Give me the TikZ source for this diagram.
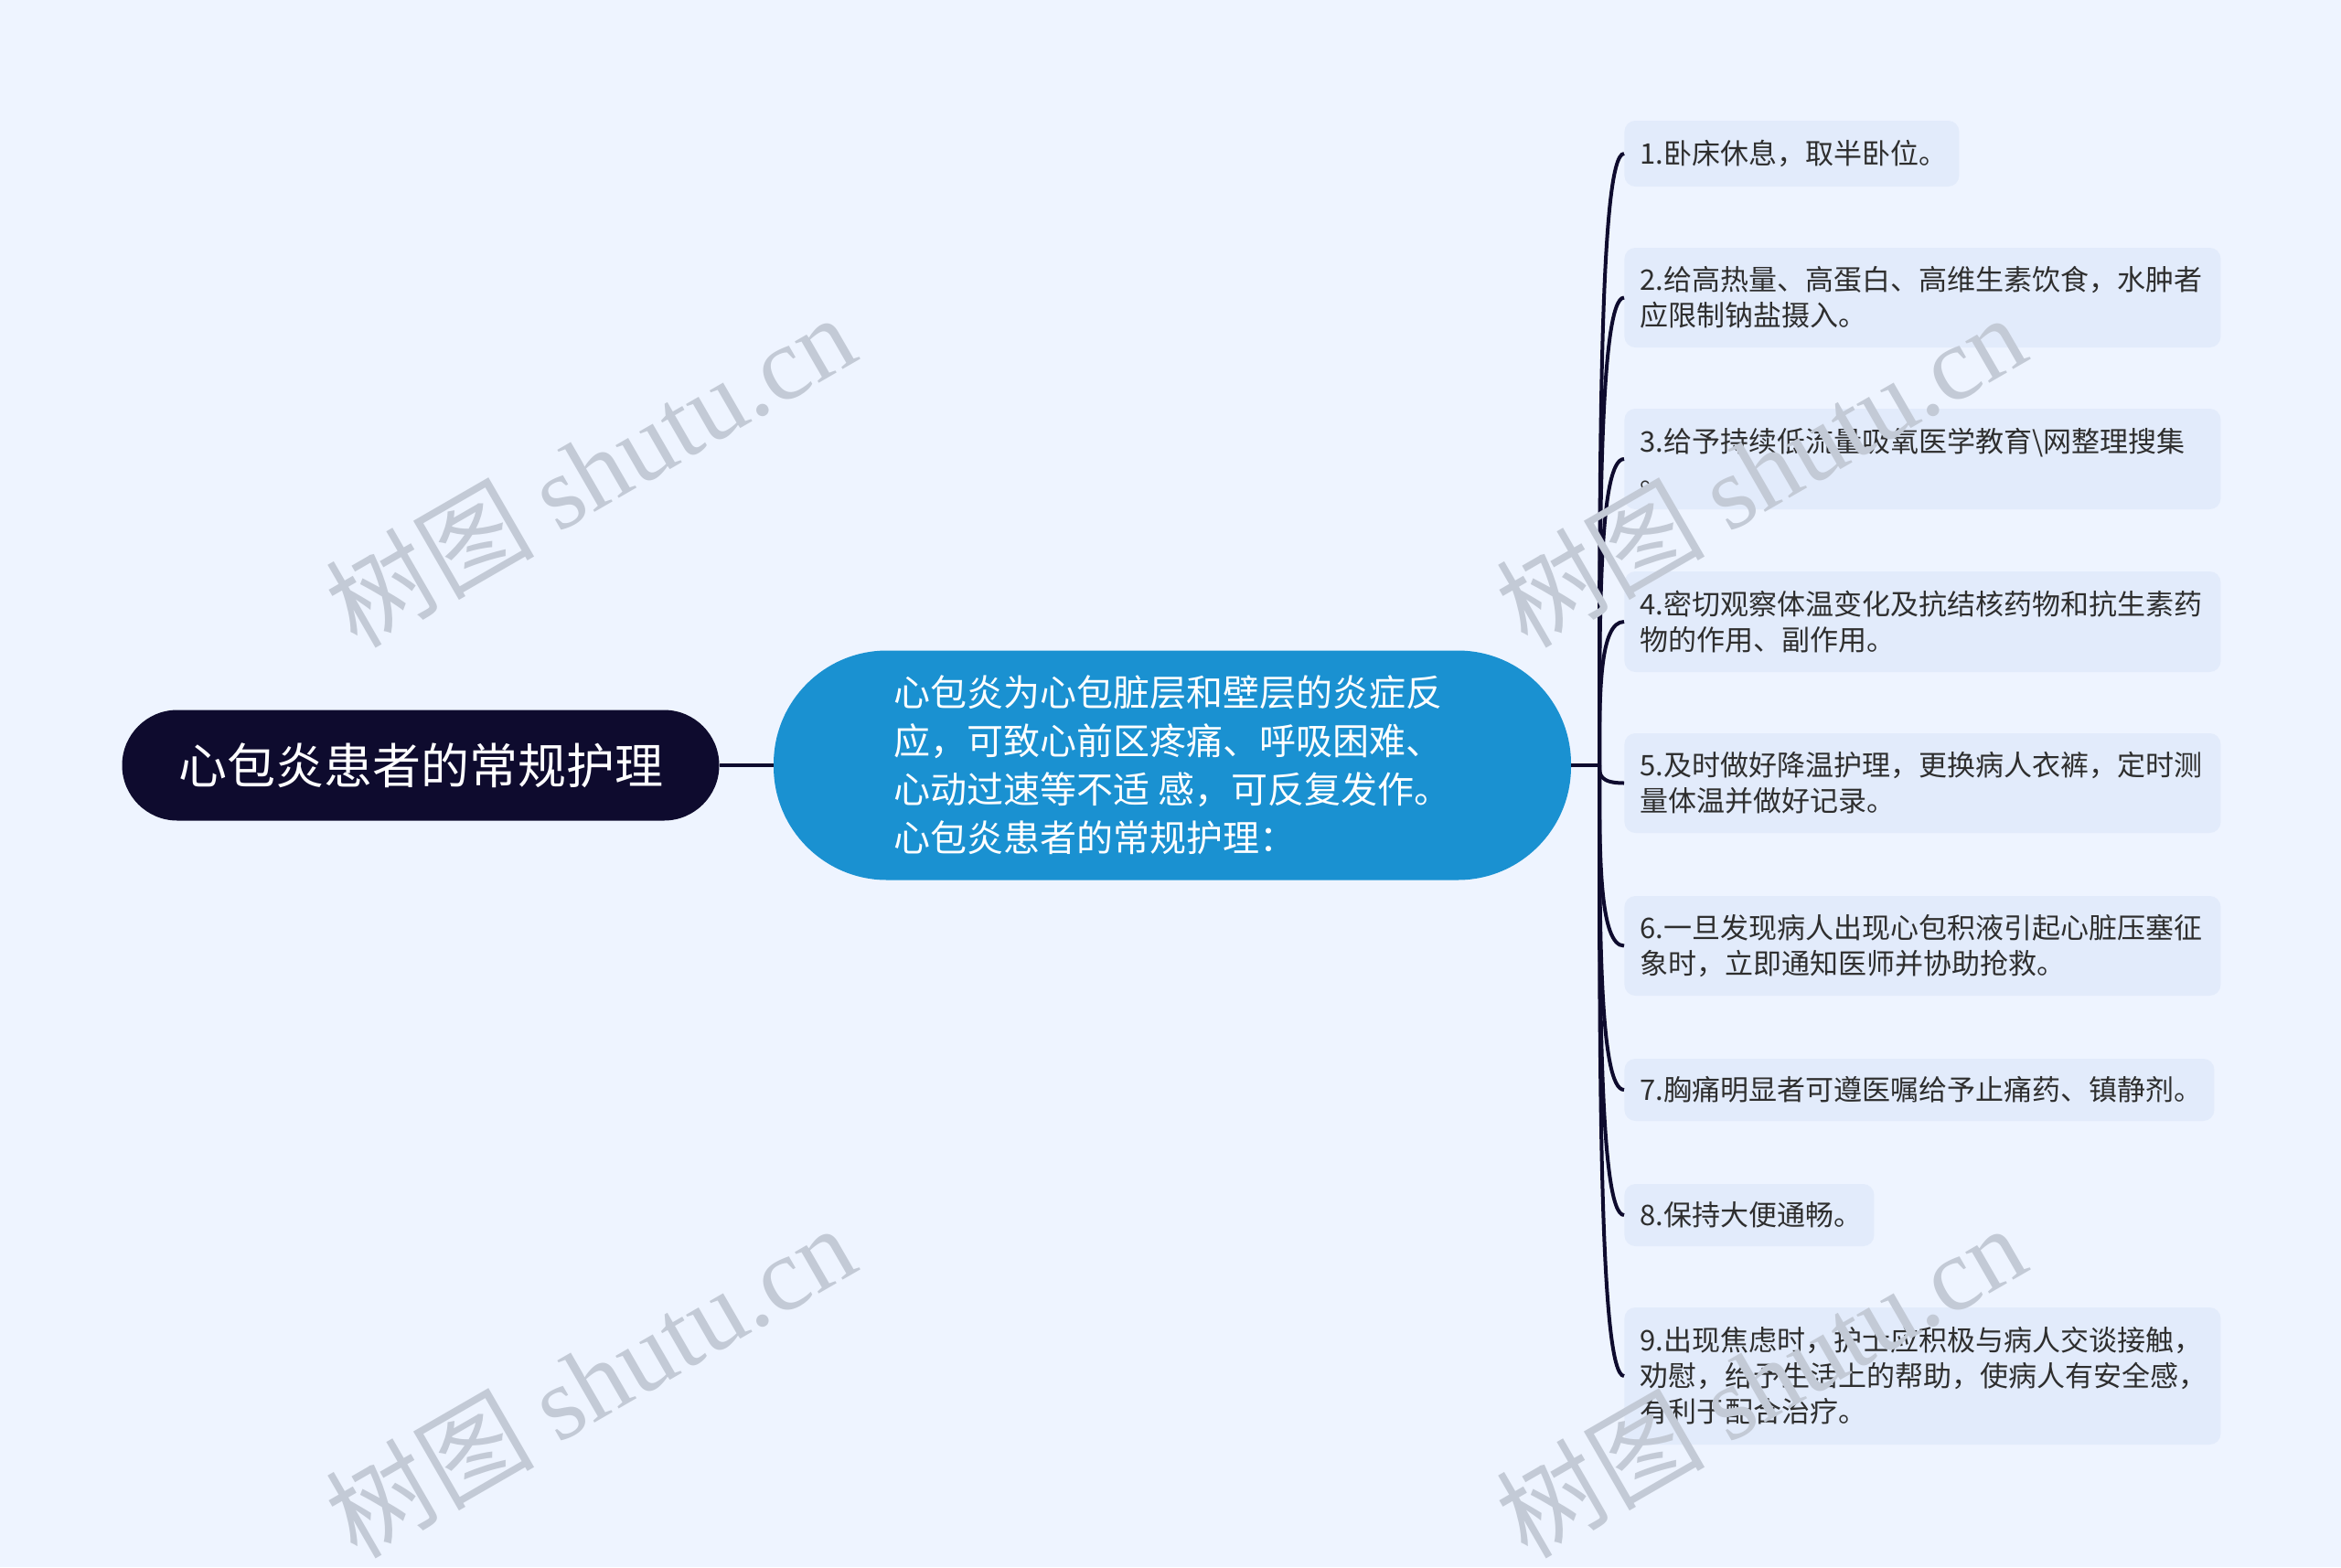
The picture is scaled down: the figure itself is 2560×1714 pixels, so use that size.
\documentclass[tikz,border=0pt]{standalone}
\usepackage{fontspec}
\setmainfont{Noto Sans CJK SC}
\newfontfamily\wmfont{Liberation Serif}
\usetikzlibrary{calc}
\definecolor{bgc}{HTML}{EEF4FF}
\definecolor{rootc}{HTML}{0E0B2E}
\definecolor{topicc}{HTML}{1A91D1}
\definecolor{leafc}{HTML}{E2EBFB}
\definecolor{txtc}{HTML}{2E2E2E}
\definecolor{wmc}{HTML}{C3CAD6}
\tikzset{
  rootbox/.style={fill=rootc,text=white,rounded corners=30.25pt,minimum width=326.5pt,minimum height=60.5pt,inner sep=0pt,font=\fontsize{26.5}{31}\selectfont},
  topicbox/.style={fill=topicc,text=white,rounded corners=62pt,minimum width=436pt,minimum height=125.5pt,align=left,inner sep=0pt,font=\fontsize{20}{26.5}\selectfont},
  leafbox/.style={fill=leafc,text=txtc,rounded corners=6pt,anchor=west,align=left,inner xsep=8.5pt,inner ysep=0pt,font=\fontsize{15.5}{19.5}\selectfont},
  conn/.style={draw=rootc,line width=2pt},
  wmark/.style={text=wmc,rotate=30,inner sep=0pt,font=\fontsize{57}{62}\selectfont}
}
\begin{document}
\begin{tikzpicture}[x=0.5pt,y=-0.5pt]
\fill[bgc] (0,0) rectangle (2560,1714);
\useasboundingbox (0,0) rectangle (2560,1714);

\node[rootbox] (root) at (460,837) {心包炎患者的常规护理};
\node[topicbox] (topic) at (1282,837) {心包炎为心包脏层和壁层的炎症反\\应，可致心前区疼痛、呼吸困难、\\心动过速等不适 感，可反复发作。\\心包炎患者的常规护理：};

\node[leafbox,text width=166pt,minimum height=36pt] (l1) at (1776,168) {1.卧床休息，取半卧位。};
\node[leafbox,text width=309pt,minimum height=54.5pt] (l2) at (1776,325.5) {2.给高热量、高蛋白、高维生素饮食，水肿者\\应限制钠盐摄入。};
\node[leafbox,text width=309pt,minimum height=55pt] (l3) at (1776,502) {3.给予持续低流量吸氧医学教育\textbackslash 网整理搜集\\。};
\node[leafbox,text width=309pt,minimum height=55pt] (l4) at (1776,680) {4.密切观察体温变化及抗结核药物和抗生素药\\物的作用、副作用。};
\node[leafbox,text width=309pt,minimum height=54.5pt] (l5) at (1776,856.5) {5.及时做好降温护理，更换病人衣裤，定时测\\量体温并做好记录。};
\node[leafbox,text width=309pt,minimum height=54.5pt] (l6) at (1776,1034.5) {6.一旦发现病人出现心包积液引起心脏压塞征\\象时，立即通知医师并协助抢救。};
\node[leafbox,text width=305.5pt,minimum height=34pt] (l7) at (1776,1192) {7.胸痛明显者可遵医嘱给予止痛药、镇静剂。};
\node[leafbox,text width=119.5pt,minimum height=34pt] (l8) at (1776,1329) {8.保持大便通畅。};
\node[leafbox,text width=309pt,minimum height=75pt] (l9) at (1776,1505) {9.出现焦虑时，护士应积极与病人交谈接触，\\劝慰，给予生活上的帮助，使病人有安全感，\\有利于配合治疗。};

\coordinate (j) at (1749,837);
\draw[conn] (root.east) -- (topic.west);
\draw[conn] (topic.east) -- (j);
\foreach \n in {1,...,9}
  \draw[conn] (j) .. controls ($(j)!0.5!(j|-l\n.west)$) and (j|-l\n.west) .. (l\n.west);

\node[wmark] (w1) at (645,514) {树图 {\wmfont shutu.cn}};
\node[wmark] (w2) at (645,1510) {树图 {\wmfont shutu.cn}};
\node[wmark] (w3) at (1925,514) {树图 {\wmfont shutu.cn}};
\node[wmark] (w4) at (1925,1510) {树图 {\wmfont shutu.cn}};
\end{tikzpicture}
\end{document}
